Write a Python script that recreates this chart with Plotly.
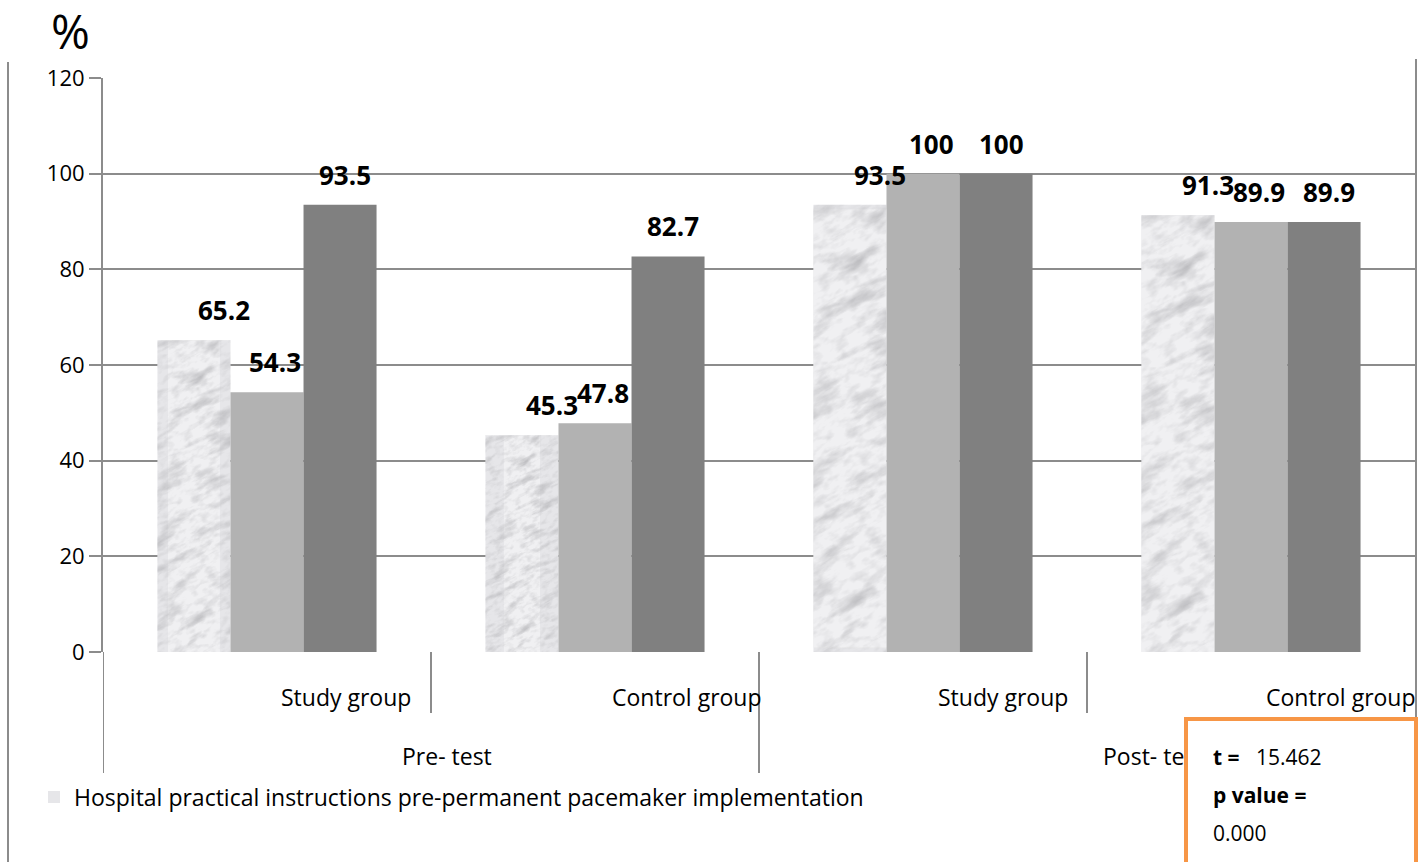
import base64
import plotly.graph_objects as go

# ---- data ----
tests = ["Pre- test", "Pre- test", "Post- test", "Post- test"]
groups = ["Study group", "Control group", "Study group", "Control group"]
series_names = [
    "Hospital practical instructions pre-permanent pacemaker implementation",
    "Series 2",
    "Series 3",
]
values_1 = [65.2, 45.3, 93.5, 91.3]
values_2 = [54.3, 47.8, 100, 89.9]
values_3 = [93.5, 82.7, 100, 89.9]
y_ticks = [0, 20, 40, 60, 80, 100, 120]
t_value = "15.462"
p_value = "0.000"

# ---- page geometry (pixels) ----
W, H = 1422, 862
L, R, T, B = 103, 1415, 78, 652
FONT = "Open Sans"


def fx(px):
    return (px - L) / (R - L)


def fy(py):
    return (B - py) / (B - T)


cat_idx = list(range(len(groups)))
all_values = [values_1, values_2, values_3]
BARGAP = 0.332
bar_w = (1 - BARGAP) / 3

# marble texture: fractal noise tile, rotated so the veins run diagonally
MARBLE_SVG = """<svg xmlns='http://www.w3.org/2000/svg' width='80' height='480' viewBox='0 0 80 480'>
<defs>
<filter id='m' x='-200' y='-100' width='480' height='680' filterUnits='userSpaceOnUse'>
<feTurbulence type='fractalNoise' baseFrequency='0.02 0.055' numOctaves='5' seed='11'/>
<feColorMatrix type='matrix' values='0 0 0 0 0.50  0 0 0 0 0.50  0 0 0 0 0.52  -2.3 0 0 0 1.12'/>
<feGaussianBlur stdDeviation='0.8'/>
</filter>
<filter id='s' x='-200' y='-100' width='480' height='680' filterUnits='userSpaceOnUse'>
<feTurbulence type='fractalNoise' baseFrequency='0.06 0.12' numOctaves='3' seed='4'/>
<feColorMatrix type='matrix' values='0 0 0 0 0.62  0 0 0 0 0.62  0 0 0 0 0.64  -1.6 0 0 0 0.88'/>
</filter>
</defs>
<rect width='80' height='480' fill='#f0f0f2'/>
<g transform='rotate(-28 40 240)'>
<rect x='-200' y='-100' width='480' height='680' filter='url(#s)'/>
<rect x='-200' y='-100' width='480' height='680' filter='url(#m)'/>
</g>
</svg>"""
MARBLE_SRC = "data:image/svg+xml;base64," + base64.b64encode(MARBLE_SVG.encode()).decode()

fig = go.Figure()

styles = [dict(color="#e6e6e9", line=dict(width=0)),
          dict(color="#b2b2b2", line=dict(width=0)),
          dict(color="#808080", line=dict(width=0))]

for s, (name, vals) in enumerate(zip(series_names, all_values)):
    fig.add_trace(go.Bar(
        x=cat_idx, y=vals, name=name, marker=styles[s],
        showlegend=(s == 0), hoverinfo="skip",
    ))

# texture laid over each bar of the first series, sized from its value
images = []
for i, v in enumerate(values_1):
    images.append(dict(
        source=MARBLE_SRC, xref="x", yref="y",
        x=i - bar_w * 1.5, y=v, sizex=bar_w, sizey=v,
        xanchor="left", yanchor="top", sizing="fill", layer="above",
    ))

# value labels above each bar
label_nudge = [30, 8, 5]
annotations = []
for s, vals in enumerate(all_values):
    for i, v in enumerate(vals):
        annotations.append(dict(
            x=i + (s - 1) * bar_w, y=v, xref="x", yref="y",
            text=f"<b>{v:g}</b>", showarrow=False,
            xanchor="center", yanchor="middle",
            xshift=label_nudge[s], yshift=30,
            font=dict(family=FONT, size=26, color="black"),
        ))

# category labels under the axis
grp_shift = [-18, 5, -17, 3]
for i, g in enumerate(groups):
    annotations.append(dict(
        x=i + 0.5, y=fy(697), xref="x", yref="paper", text=g,
        showarrow=False, xanchor="right", yanchor="middle",
        xshift=grp_shift[i], font=dict(family=FONT, size=23, color="black"),
    ))

# test (parent) labels
parents = [tests[0], tests[2]]
parent_left = [400, 1101]
for txt, px in zip(parents, parent_left):
    annotations.append(dict(
        x=fx(px), y=fy(756), xref="paper", yref="paper", text=txt,
        showarrow=False, xanchor="left", yanchor="middle",
        font=dict(family=FONT, size=23, color="black"),
    ))

# "%" unit label
annotations.append(dict(
    x=fx(70), y=fy(31), xref="paper", yref="paper", text="%",
    showarrow=False, xanchor="center", yanchor="middle",
    font=dict(family=FONT, size=47, color="black"),
))

# statistics box (drawn over the post-test label)
annotations.append(dict(
    x=fx(1184), y=fy(717), xref="paper", yref="paper", text=" ",
    showarrow=False, xanchor="left", yanchor="top",
    width=226, height=170, bgcolor="white",
    bordercolor="#f79646", borderwidth=4, borderpad=0,
))
stat_lines = [f"<b>t =</b>   {t_value}", "<b>p value =</b>", p_value]
for k, line in enumerate(stat_lines):
    annotations.append(dict(
        x=fx(1211), y=fy(757 + 38 * k), xref="paper", yref="paper",
        text=line, showarrow=False, xanchor="left", yanchor="middle",
        font=dict(family=FONT, size=21, color="black"),
    ))

# frame lines and category dividers
line_col = "#8c8c8c"
shapes = [
    dict(type="line", xref="paper", yref="paper", x0=fx(8), x1=fx(8),
         y0=fy(62), y1=fy(862), line=dict(color=line_col, width=2)),
    dict(type="line", xref="paper", yref="paper", x0=fx(1416), x1=fx(1416),
         y0=fy(59), y1=fy(735), line=dict(color=line_col, width=2)),
]
for b in range(len(groups)):
    long_div = (b % 2 == 0)
    shapes.append(dict(
        type="line", xref="x", yref="paper", x0=b - 0.5, x1=b - 0.5,
        y0=0, y1=fy(773 if long_div else 713),
        line=dict(color=line_col, width=2),
    ))

fig.update_layout(
    width=W, height=H,
    margin=dict(l=L, r=W - R, t=T, b=H - B, autoexpand=False),
    paper_bgcolor="white", plot_bgcolor="white",
    barmode="group", bargap=BARGAP, bargroupgap=0,
    font=dict(family=FONT, color="black"),
    showlegend=True,
    legend=dict(
        x=fx(34), y=fy(797), xanchor="left", yanchor="middle",
        orientation="h", font=dict(family=FONT, size=23, color="black"),
        bgcolor="rgba(0,0,0,0)", itemsizing="constant",
    ),
    annotations=annotations,
    shapes=shapes,
    images=images,
)
fig.update_xaxes(
    range=[-0.5, len(groups) - 0.5], showticklabels=False, showgrid=False,
    zeroline=False, showline=False, ticks="",
)
fig.update_yaxes(
    range=[0, 120], tickvals=y_ticks, showgrid=True, gridcolor=line_col,
    gridwidth=2, zeroline=False, showline=True, linecolor=line_col,
    linewidth=2, ticks="outside", ticklen=12, tickcolor=line_col,
    tickwidth=2, tickfont=dict(family=FONT, size=22, color="black"),
)

fig.write_html("out.html")
